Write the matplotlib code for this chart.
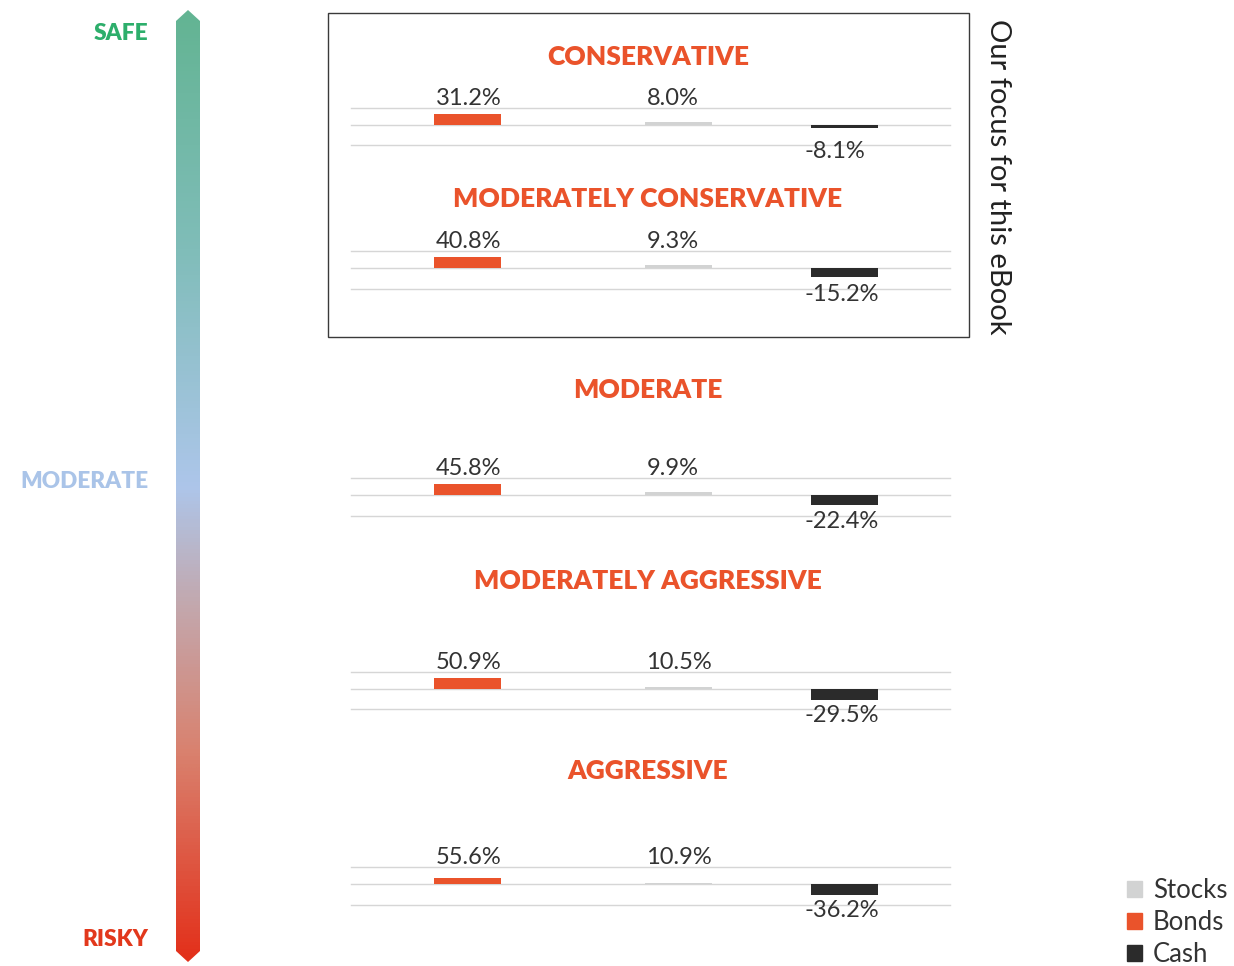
import numpy as np
import matplotlib
matplotlib.use("Agg")
import matplotlib.pyplot as plt
from matplotlib.colors import LinearSegmentedColormap
from matplotlib.patches import Polygon, Rectangle, Patch

W, H = 1234, 966

# --- data -----------------------------------------------------------------
profiles = ["CONSERVATIVE", "MODERATELY CONSERVATIVE", "MODERATE",
            "MODERATELY AGGRESSIVE", "AGGRESSIVE"]
assets = ["Bonds", "Stocks", "Cash"]

# values printed next to the bars
bonds_label = [31.2, 40.8, 45.8, 50.9, 55.6]
stocks_label = [8.0, 9.3, 9.9, 10.5, 10.9]
cash_label = [-8.1, -15.2, -22.4, -29.5, -36.2]

# bar lengths as drawn in the original (not to scale with the labels)
bonds_bar = [31, 31, 31, 33, 17]
stocks_bar = [9, 8, 10, 7, 3]
cash_bar = [-10, -27, -28, -32, -33]

legend_order = ["Stocks", "Bonds", "Cash"]

# --- style ----------------------------------------------------------------
ORANGE = "#EA532B"
GRAY = "#D2D3D3"
BLACK = "#2B2B2B"
TEXT = "#333333"
GRID = "#D6D6D6"
colors = {"Bonds": ORANGE, "Stocks": GRAY, "Cash": BLACK}

plt.rcParams["font.family"] = ["Lato", "DejaVu Sans"]

fig = plt.figure(figsize=(W / 100, H / 100), dpi=100)

# full-figure overlay in pixel coordinates for decoration
deco = fig.add_axes([0, 0, 1, 1], zorder=0)
deco.set_xlim(0, W)
deco.set_ylim(H, 0)
deco.axis("off")

# risk gradient arrow
grad = LinearSegmentedColormap.from_list("risk", [
    (0.00, "#63B493"), (0.25, "#80BDB9"), (0.50, "#ADC6EA"),
    (0.62, "#C2A9B0"), (0.78, "#D9826F"), (1.00, "#E3301A")])
arrow = Polygon([(176, 21), (188, 10), (200, 21), (200, 951),
                 (188, 962), (176, 951)], closed=True, fc="none", ec="none")
deco.add_patch(arrow)
img = deco.imshow(np.linspace(0, 1, 256)[:, None], cmap=grad, aspect="auto",
                  extent=[176, 200, 962, 10], interpolation="bilinear")
img.set_clip_path(arrow)
deco.set_xlim(0, W)
deco.set_ylim(H, 0)

side = [("SAFE", 33, "#2DAE6B"), ("MODERATE", 481, "#AAC4E8"),
        ("RISKY", 940, "#E2381C")]
for txt, y, c in side:
    deco.text(148, y, txt, ha="right", va="center", fontsize=16.3,
              fontweight="heavy", color=c)

# focus box
deco.add_patch(Rectangle((328, 13), 641, 324, fill=False, ec="#3A3A3A", lw=1))
deco.text(998, 177, "Our focus for this eBook", rotation=-90, ha="center",
          va="center", fontsize=21, color="#222222")

# --- panels ---------------------------------------------------------------
zero_px = [125, 268, 495, 689, 884]
title_px = [57, 199, 390, 581, 771]
slots = [0.139, 0.491, 0.768]   # left edge of each bar, axes fraction
bar_w = 0.112
up_px, down_px = 17, 20.5

for i, name in enumerate(profiles):
    top = zero_px[i] - up_px
    bottom = zero_px[i] + down_px
    ax = fig.add_axes([351 / W, 1 - bottom / H, 599 / W, (bottom - top) / H])
    ax.set_xlim(0, 1)
    ax.set_ylim(-60, 50)
    ax.patch.set_alpha(0)
    ax.axis("off")
    for g in (50, 0, -60):
        ax.axhline(g, color=GRID, lw=1, clip_on=False, zorder=0)

    bars = [bonds_bar[i], stocks_bar[i], cash_bar[i]]
    labels = [bonds_label[i], stocks_label[i], cash_label[i]]
    ax.bar(slots, bars, width=bar_w, align="edge",
           color=[colors[a] for a in assets], zorder=2)
    for x, v in zip(slots, labels):
        if v >= 0:
            ax.annotate(f"{v:.1f}%", (x, 50), xytext=(1, 2),
                        textcoords="offset points", ha="left",
                        va="baseline", fontsize=17, color=TEXT)
        else:
            ax.annotate(f"{v:.1f}%", (x, -60), xytext=(-5, -4),
                        textcoords="offset points", ha="left",
                        va="center", fontsize=17, color=TEXT)

    fig.text(648 / W, 1 - title_px[i] / H, name, ha="center", va="center",
             fontsize=19, fontweight="heavy", color=ORANGE)

# --- legend ---------------------------------------------------------------
handles = [Patch(color=colors[a]) for a in legend_order]
fig.legend(handles, legend_order, loc="upper left",
           bbox_to_anchor=(1127 / W, 1 - 878 / H), frameon=False,
           fontsize=18.5, handlelength=0.6, handleheight=0.6,
           handletextpad=0.4, labelspacing=0.28, borderpad=0,
           borderaxespad=0, labelcolor=TEXT)

fig.savefig("out.png", dpi=100)
